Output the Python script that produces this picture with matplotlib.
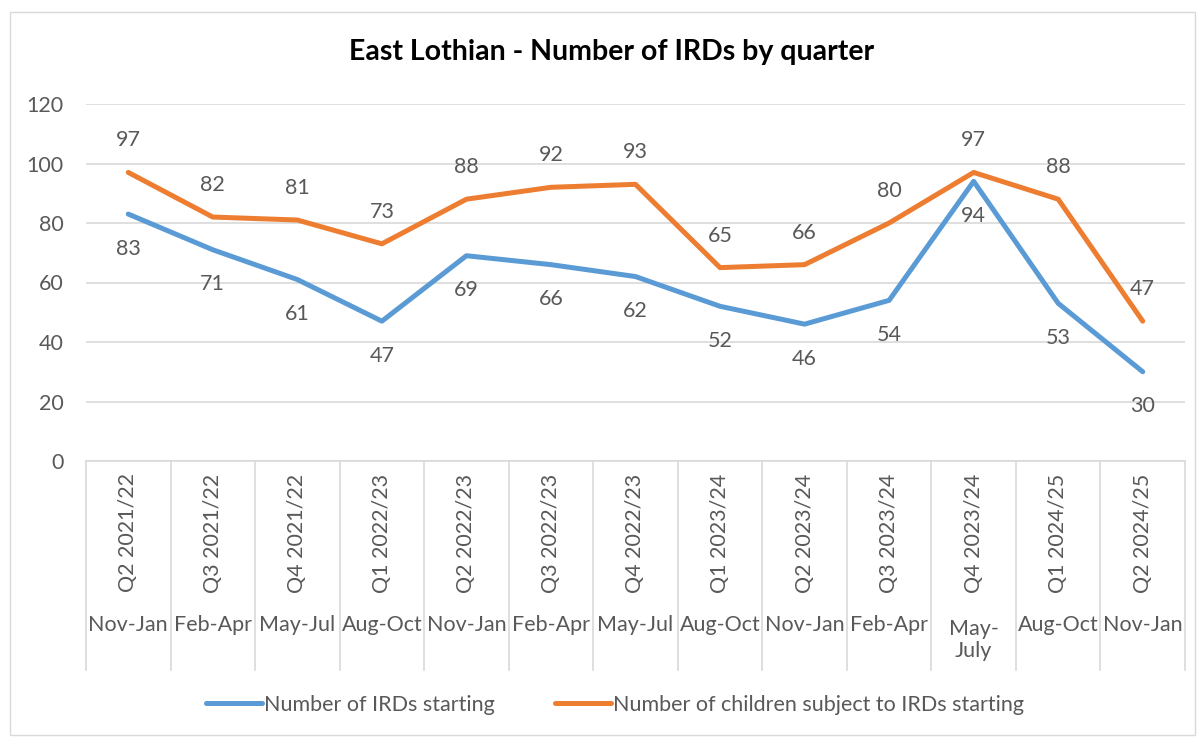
import matplotlib
matplotlib.use("Agg")
import matplotlib.pyplot as plt
import matplotlib.transforms as mtransforms
from matplotlib.patches import Rectangle

plt.rcParams['font.family'] = ['Lato', 'DejaVu Sans']

# data
quarters = ["Q2 2021/22", "Q3 2021/22", "Q4 2021/22", "Q1 2022/23", "Q2 2022/23",
            "Q3 2022/23", "Q4 2022/23", "Q1 2023/24", "Q2 2023/24", "Q3 2023/24",
            "Q4 2023/24", "Q1 2024/25", "Q2 2024/25"]
months = ["Nov-Jan", "Feb-Apr", "May-Jul", "Aug-Oct", "Nov-Jan", "Feb-Apr", "May-Jul",
          "Aug-Oct", "Nov-Jan", "Feb-Apr", "May-\nJuly", "Aug-Oct", "Nov-Jan"]
irds = [83, 71, 61, 47, 69, 66, 62, 52, 46, 54, 94, 53, 30]
children = [97, 82, 81, 73, 88, 92, 93, 65, 66, 80, 97, 88, 47]

BLUE = "#5B9BD5"
ORANGE = "#ED7D31"
TXT = "#595959"
GRID = "#D9D9D9"
FS = 15.5

W, H = 1202, 738
fig = plt.figure(figsize=(W / 100, H / 100), dpi=100)

# chart border
fig.patches.append(Rectangle((10 / W, 3 / H), 1185 / W, 723 / H, transform=fig.transFigure,
                             fill=False, edgecolor=GRID, linewidth=1))

left, right, top, bottom = 86, 1185, 104, 461
ax = fig.add_axes([left / W, 1 - bottom / H, (right - left) / W, (bottom - top) / H])

x = list(range(len(quarters)))
ax.plot(x, irds, color=BLUE, lw=3.6, solid_capstyle='round', solid_joinstyle='round',
        label="Number of IRDs starting", zorder=3)
ax.plot(x, children, color=ORANGE, lw=3.6, solid_capstyle='round', solid_joinstyle='round',
        label="Number of children subject to IRDs starting", zorder=3)

for i in x:
    ax.annotate(str(irds[i]), (i, irds[i]), xytext=(0, -25), textcoords='offset points',
                ha='center', va='center', fontsize=FS, color=TXT)
    ax.annotate(str(children[i]), (i, children[i]), xytext=(0, 23), textcoords='offset points',
                ha='center', va='center', fontsize=FS, color=TXT)

ax.set_xlim(-0.5, len(quarters) - 0.5)
ax.set_ylim(0, 120)
ax.set_yticks(range(0, 121, 20))
ax.yaxis.grid(True, color=GRID, lw=1.2)
ax.set_axisbelow(True)
ax.tick_params(axis='y', length=0, pad=16, labelsize=FS, labelcolor=TXT)
ax.tick_params(axis='x', length=0, labelbottom=False)
for s in ax.spines.values():
    s.set_visible(False)

# multi-level category axis
trans = mtransforms.blended_transform_factory(ax.transData, ax.transAxes)
ph = bottom - top
for k in range(len(quarters) + 1):
    ax.plot([k - 0.5, k - 0.5], [0, -(670 - bottom) / ph], transform=trans,
            color=GRID, lw=1.2, clip_on=False)
ax.plot([-0.5, len(quarters) - 0.5], [0, 0], transform=trans, color=GRID, lw=1.2, clip_on=False)
for i in x:
    ax.text(i, -(533 - bottom) / ph, quarters[i], transform=trans, rotation=90,
            ha='center', va='center', fontsize=FS, color=TXT)
    my = 640 if "\n" in months[i] else 625
    ax.text(i, -(my - bottom) / ph, months[i], transform=trans,
            ha='center', va='center', fontsize=FS, color=TXT, linespacing=1.1)

fig.text(612 / W, 1 - 52 / H, "East Lothian - Number of IRDs by quarter", ha='center',
         va='center', fontsize=20.5, fontweight='bold', color='black')

leg = fig.legend(loc='center', bbox_to_anchor=(615 / W, 1 - 705 / H), ncol=2, frameon=False,
                 fontsize=FS, handlelength=2.6, handletextpad=0.1, columnspacing=2.8)
for t in leg.get_texts():
    t.set_color(TXT)

fig.savefig("out.png", dpi=100)
